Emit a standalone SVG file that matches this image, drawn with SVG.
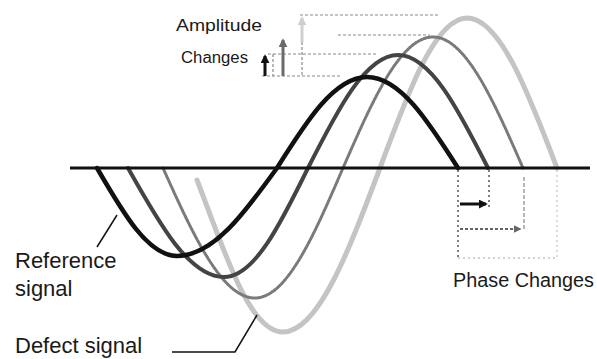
<svg xmlns="http://www.w3.org/2000/svg" width="597" height="359" viewBox="0 0 597 359">
  <defs>
    <style>
      .lbl { font-family: "Liberation Sans", Arial, sans-serif; fill: #1a1a1a; }
      .wave { fill: none; stroke-linecap: round; }
      .guide { fill: none; stroke: #8a8a8a; stroke-width: 1.2; stroke-dasharray: 3 2; }
      .ptr { fill: none; stroke: #111; stroke-width: 1.5; }
    </style>
    <marker id="hBlack" viewBox="0 0 10 10" refX="8" refY="5" markerWidth="3" markerHeight="3" orient="auto">
      <path d="M0,0 L10,5 L0,10 Z" fill="#111"/>
    </marker>
    <marker id="hDark" viewBox="0 0 10 10" refX="8" refY="5" markerWidth="3" markerHeight="3" orient="auto">
      <path d="M0,0 L10,5 L0,10 Z" fill="#6a6a6a"/>
    </marker>
    <marker id="hLight" viewBox="0 0 10 10" refX="8" refY="5" markerWidth="3" markerHeight="3" orient="auto">
      <path d="M0,0 L10,5 L0,10 Z" fill="#cfcfcf"/>
    </marker>
    <marker id="hMid" viewBox="0 0 10 10" refX="8" refY="5" markerWidth="4" markerHeight="4" orient="auto">
      <path d="M0,0 L10,5 L0,10 Z" fill="#666"/>
    </marker>
  </defs>
  <rect width="597" height="359" fill="#ffffff"/>

  <g id="wave-light">
    <path class="wave" stroke="#c4c4c4" stroke-width="5" d="M197,180 C224,250 249,332 283,332 C318.1,332 348.4,252 380,168 C408.4,91.2 435.5,18 467,18 C499.6,18 527.7,91.2 557,168"/>
  </g>
  <g id="wave-dotted">
    <path class="wave" stroke="#7a7a7a" stroke-width="3" stroke-dasharray="2 1.5" d="M163,168 C193,234.6 221.7,298 255,298 C286.9,298 314.3,234.6 343,168 C372.3,100.9 400.4,37 433,37 C465.6,37 493.7,100.9 523,168"/>
  </g>
  <g id="wave-dark">
    <path class="wave" stroke="#444" stroke-width="4" d="M128,168 C159.3,223.8 189.3,277 224,277 C254.4,277 280.6,223.8 308,168 C337.3,110.1 365.4,55 398,55 C430.6,55 458.7,110.1 488,168"/>
  </g>
  <g id="reference-signal">
    <path class="wave" stroke="#111" stroke-width="4.5" d="M97,168 C123.1,213.1 148,256 177,256 C213.2,256 244.4,213.1 277,168 C306.3,121.4 334.4,77 367,77 C399.9,77 428.3,121.4 458,168"/>
  </g>
  <g id="axis">
    <line x1="70" y1="168" x2="590" y2="168" stroke="#111" stroke-width="3"/>
  </g>

  <g id="amplitude-guides">
    <line class="guide" x1="262" y1="76" x2="342" y2="76"/>
    <line class="guide" x1="268" y1="54" x2="377" y2="54"/>
    <line class="guide" x1="338" y1="35" x2="430" y2="35" stroke="#9a9a9a"/>
    <line class="guide" x1="300" y1="15" x2="440" y2="15" stroke="#bbb" stroke-dasharray="2 4"/>
    <line class="guide" x1="273" y1="54" x2="273" y2="76" stroke="#aaa"/>
    <line class="guide" x1="302" y1="42" x2="302" y2="76" stroke="#bbb" stroke-dasharray="2 3"/>
  </g>

  <g id="phase-guides">
    <line x1="458" y1="170" x2="458" y2="260" stroke="#555" stroke-width="1.5" stroke-dasharray="2 3"/>
    <line x1="489" y1="170" x2="489" y2="208" stroke="#555" stroke-width="1.5" stroke-dasharray="2 3"/>
    <line x1="524" y1="177" x2="524" y2="229" stroke="#888" stroke-width="1.2" stroke-dasharray="4 2"/>
    <line x1="557" y1="170" x2="557" y2="258" stroke="#c4c4c4" stroke-width="1.2" stroke-dasharray="2 3"/>
    <line x1="458" y1="258" x2="557" y2="258" stroke="#c4c4c4" stroke-width="1.5" stroke-dasharray="2 3"/>
  </g>

  <g id="connectors">
    <line x1="265" y1="76" x2="265" y2="56" stroke="#111" stroke-width="3" marker-end="url(#hBlack)"/>
    <line x1="283" y1="76" x2="283" y2="40" stroke="#6a6a6a" stroke-width="3" marker-end="url(#hDark)"/>
    <line x1="302" y1="42" x2="302" y2="18" stroke="#cfcfcf" stroke-width="3" marker-end="url(#hLight)"/>
    <line x1="460" y1="204" x2="486" y2="204" stroke="#111" stroke-width="3" marker-end="url(#hBlack)"/>
    <line x1="460" y1="229" x2="520" y2="229" stroke="#666" stroke-width="2" stroke-dasharray="3 2" marker-end="url(#hMid)"/>
    <path class="ptr" d="M97,247 L117,215"/>
    <path class="ptr" d="M172,352 H235 L257,315"/>
  </g>

  <g id="label-amplitude">
    <text class="lbl" x="176" y="31" font-size="16" textLength="86" lengthAdjust="spacingAndGlyphs">Amplitude</text>
    <text class="lbl" x="181" y="63" font-size="16" textLength="67" lengthAdjust="spacingAndGlyphs">Changes</text>
  </g>
  <g id="label-reference">
    <text class="lbl" x="15" y="268" font-size="22">Reference</text>
    <text class="lbl" x="15" y="296" font-size="22">signal</text>
  </g>
  <g id="label-defect">
    <text class="lbl" x="15" y="353" font-size="22">Defect signal</text>
  </g>
  <g id="label-phase">
    <text class="lbl" x="453" y="287" font-size="20" textLength="141" lengthAdjust="spacingAndGlyphs">Phase Changes</text>
  </g>
</svg>
